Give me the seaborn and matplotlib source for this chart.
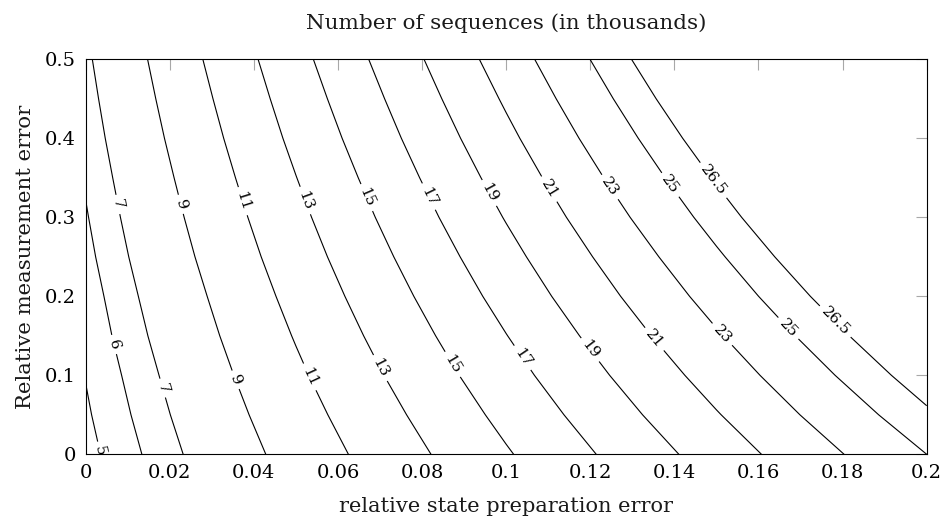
import numpy as np
import matplotlib
matplotlib.use("Agg")
import matplotlib.pyplot as plt
import seaborn as sns

# ---- data ----
prep_error = [0.0, 0.05, 0.10, 0.15, 0.20]          # relative state preparation error
meas_error = [0.0, 0.05, 0.1, 0.15, 0.2, 0.25, 0.3, 0.35, 0.4, 0.45, 0.5]  # relative measurement error
seq_thousands = [                                    # rows: meas_error, cols: prep_error
    [4.64, 9.73, 14.82, 19.91, 25.00],
    [4.85, 10.19, 15.53, 20.88, 26.22],
    [5.04, 10.66, 16.25, 21.84, 27.44],
    [5.27, 11.12, 16.96, 22.81, 28.65],
    [5.47, 11.58, 17.68, 23.78, 29.87],
    [5.70, 12.05, 18.39, 24.74, 31.09],
    [5.91, 12.51, 19.11, 25.71, 32.31],
    [6.12, 12.97, 19.82, 26.67, 33.52],
    [6.34, 13.44, 20.54, 27.64, 34.74],
    [6.55, 13.90, 21.25, 28.61, 35.96],
    [6.76, 14.37, 21.97, 29.57, 37.18],
]
levels = [5, 6, 7, 9, 11, 13, 15, 17, 19, 21, 23, 25, 26.5]
x_ticks = [0, 0.02, 0.04, 0.06, 0.08, 0.1, 0.12, 0.14, 0.16, 0.18, 0.2]
x_ticklabels = ["0", "0.02", "0.04", "0.06", "0.08", "0.1", "0.12", "0.14", "0.16", "0.18", "0.2"]
y_ticks = [0, 0.1, 0.2, 0.3, 0.4, 0.5]
y_ticklabels = ["0", "0.1", "0.2", "0.3", "0.4", "0.5"]

# label placement (layout only)
label_spots = [
    (0.0034, 0.004),
    (0.0060, 0.138),
    (0.0074, 0.316), (0.0181, 0.0835),
    (0.0223, 0.316), (0.0355, 0.094),
    (0.0371, 0.320), (0.0533, 0.098),
    (0.0516, 0.320), (0.0700, 0.109),
    (0.0664, 0.324), (0.0870, 0.113),
    (0.0815, 0.326), (0.1037, 0.1215),
    (0.0957, 0.330), (0.1199, 0.132),
    (0.1100, 0.335), (0.1350, 0.1447),
    (0.1243, 0.337), (0.1512, 0.151),
    (0.1390, 0.341), (0.1671, 0.1595),
    (0.1493, 0.347), (0.1782, 0.1678),
]

sns.set_theme(style="white")
plt.rcParams['font.family'] = ['DejaVu Serif', 'DejaVu Sans']

W, H = 944, 519
fig = plt.figure(figsize=(W / 100, H / 100), dpi=100)
ax = fig.add_axes([85.7 / W, 1 - 454.3 / H, 841 / W, 395 / H])

cs = ax.contour(prep_error, meas_error, seq_thousands, levels=levels,
                colors="black", linewidths=0.8)
ax.clabel(cs, levels, fmt=lambda v: f"{v:g}", manual=label_spots,
          inline=True, inline_spacing=5, fontsize=11)
for t in cs.labelTexts:
    t.set_clip_on(True)
    t.set_clip_path(ax.patch)

ax.set_xlim(0, 0.2)
ax.set_ylim(0, 0.5)
ax.set_xticks(x_ticks)
ax.set_xticklabels(x_ticklabels)
ax.set_yticks(y_ticks)
ax.set_yticklabels(y_ticklabels)
ax.tick_params(direction="in", length=8, width=0.8, color="#a8a8a8",
               top=True, right=True, labelsize=14, pad=7, labelcolor="black")
for s in ax.spines.values():
    s.set_color("black")
    s.set_linewidth(0.8)

ax.set_xlabel("relative state preparation error", fontsize=15, labelpad=11, color="#1a1a1a")
ax.set_ylabel("Relative measurement error", fontsize=15.3, labelpad=7, color="#1a1a1a")
ax.set_title("Number of sequences (in thousands)", fontsize=15.4, pad=22, color="#1a1a1a")

fig.savefig("out.png", dpi=100)
